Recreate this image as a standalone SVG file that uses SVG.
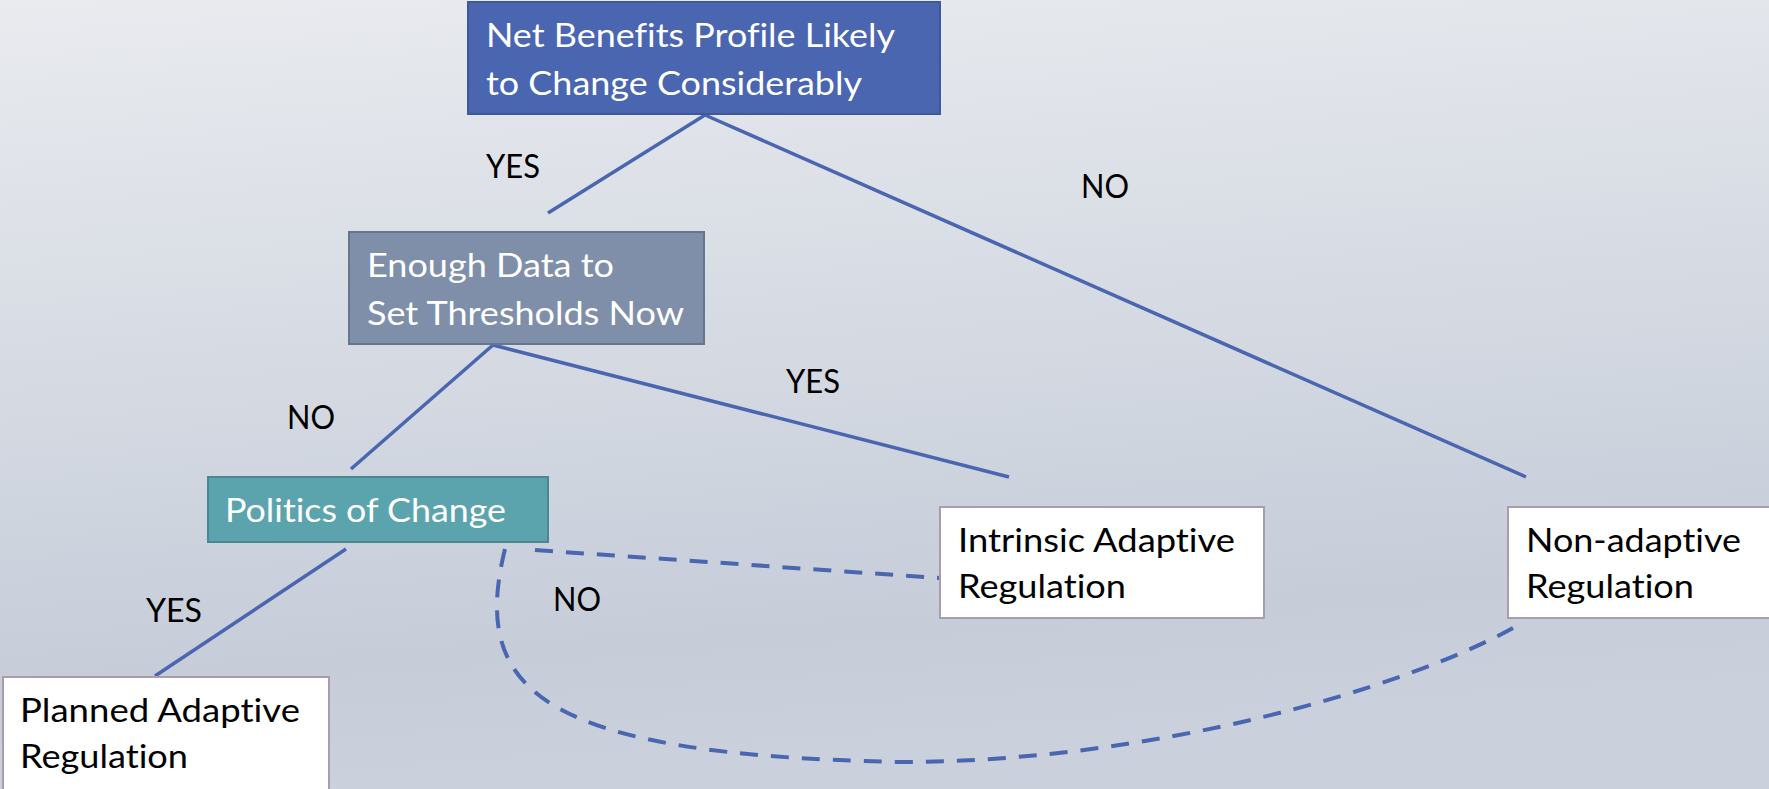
<svg xmlns="http://www.w3.org/2000/svg" width="1769" height="789" viewBox="0 0 1769 789">
<defs>
<linearGradient id="bg" x1="0" y1="0" x2="0.15" y2="1">
<stop offset="0" stop-color="#e9ebef"/>
<stop offset="0.85" stop-color="#c6cdd9"/>
<stop offset="1" stop-color="#cad1dc"/>
</linearGradient>
<style>
.t{font-family:Lato,"Liberation Sans",sans-serif;font-size:32px;font-variant-ligatures:none}
.w{fill:#ffffff}
.k{fill:#000000}
.ln{stroke:#4a66b0;stroke-width:3.5;fill:none}
.ds{stroke:#4a66b0;stroke-width:4;fill:none;stroke-dasharray:18 13}
</style>
</defs>
<rect x="0" y="0" width="1769" height="789" fill="url(#bg)"/>
<g id="connectors">
<line class="ln" x1="705" y1="115" x2="548" y2="213"/>
<line class="ln" x1="705" y1="115" x2="1526" y2="477"/>
<line class="ln" x1="493" y1="345" x2="351" y2="469"/>
<line class="ln" x1="493" y1="345" x2="1009" y2="477"/>
<line class="ln" x1="346" y1="549" x2="155" y2="676"/>
<line class="ds" x1="535" y1="550" x2="939" y2="578"/>
<path class="ds" d="M505,549 C470,690 540,755 900,762 C1150,762 1400,690 1513,628"/>
</g>
<g id="labels">
<text class="t k" x="486" y="178" textLength="54" lengthAdjust="spacingAndGlyphs">YES</text>
<text class="t k" x="1081" y="198" textLength="48" lengthAdjust="spacingAndGlyphs">NO</text>
<text class="t k" x="786" y="393" textLength="54" lengthAdjust="spacingAndGlyphs">YES</text>
<text class="t k" x="287" y="429" textLength="48" lengthAdjust="spacingAndGlyphs">NO</text>
<text class="t k" x="146" y="622" textLength="56" lengthAdjust="spacingAndGlyphs">YES</text>
<text class="t k" x="553" y="611" textLength="48" lengthAdjust="spacingAndGlyphs">NO</text>
</g>
<g id="node-net-benefits">
<rect x="468" y="2" width="472" height="112" fill="#4a66b0" stroke="#3e5898" stroke-width="2"/>
<text class="t w" x="486" y="47" textLength="409" lengthAdjust="spacingAndGlyphs">Net Benefits Profile Likely</text>
<text class="t w" x="486" y="95" textLength="376" lengthAdjust="spacingAndGlyphs">to Change Considerably</text>
</g>
<g id="node-enough-data">
<rect x="349" y="232" width="355" height="112" fill="#7f8faa" stroke="#67768f" stroke-width="2"/>
<text class="t w" x="367" y="277" textLength="247" lengthAdjust="spacingAndGlyphs">Enough Data to</text>
<text class="t w" x="367" y="325" textLength="317" lengthAdjust="spacingAndGlyphs">Set Thresholds Now</text>
</g>
<g id="node-politics">
<rect x="208" y="477" width="340" height="65" fill="#5ba4ae" stroke="#4a8790" stroke-width="2"/>
<text class="t w" x="225" y="522" textLength="281" lengthAdjust="spacingAndGlyphs">Politics of Change</text>
</g>
<g id="node-planned">
<rect x="3" y="677" width="326" height="114" fill="#ffffff" stroke="#a99cab" stroke-width="2"/>
<text class="t k" x="20" y="722" textLength="280" lengthAdjust="spacingAndGlyphs">Planned Adaptive</text>
<text class="t k" x="20" y="768" textLength="168" lengthAdjust="spacingAndGlyphs">Regulation</text>
</g>
<g id="node-intrinsic">
<rect x="940" y="507" width="324" height="111" fill="#ffffff" stroke="#a99cab" stroke-width="2"/>
<text class="t k" x="958" y="552" textLength="277" lengthAdjust="spacingAndGlyphs">Intrinsic Adaptive</text>
<text class="t k" x="958" y="598" textLength="168" lengthAdjust="spacingAndGlyphs">Regulation</text>
</g>
<g id="node-non-adaptive">
<rect x="1508" y="507" width="270" height="111" fill="#ffffff" stroke="#a99cab" stroke-width="2"/>
<text class="t k" x="1526" y="552" textLength="215" lengthAdjust="spacingAndGlyphs">Non-adaptive</text>
<text class="t k" x="1526" y="598" textLength="168" lengthAdjust="spacingAndGlyphs">Regulation</text>
</g>
</svg>
